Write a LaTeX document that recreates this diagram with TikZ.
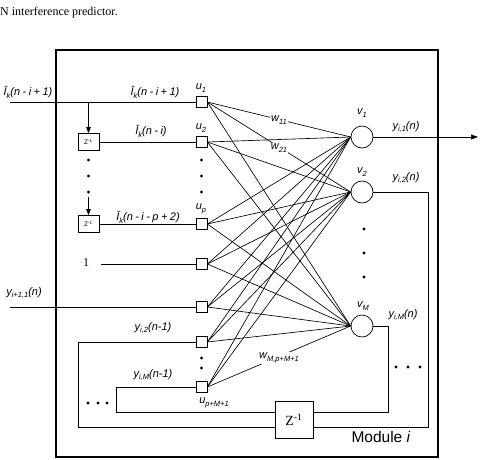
\documentclass[tikz,border=0pt]{standalone}
\usepackage{fontspec}
\setmainfont{Liberation Serif}
\newfontfamily\arl{Liberation Sans}
\usetikzlibrary{arrows.meta}
\newcommand\sbx[1]{\raisebox{-0.5ex}{\fontsize{7.5}{7.5}\selectfont #1}}
\begin{document}
\begin{tikzpicture}[x=1pt,y=-1pt,
  inbox/.style={draw,fill=white,minimum size=11pt,inner sep=0,line width=0.7pt},
  neu/.style={draw,fill=white,circle,minimum size=22pt,inner sep=0,line width=0.7pt},
  zbox/.style={draw,fill=white,minimum width=21pt,minimum height=17pt,inner sep=0,line width=0.7pt,font=\arl\fontsize{6.5}{6.5}\selectfont},
  lab/.style={font=\arl\itshape\fontsize{11}{12}\selectfont,inner sep=0.5pt},
  wlab/.style={lab,fill=white,inner sep=1pt},
  conn/.style={line width=0.65pt},
  dotn/.style={circle,fill,inner sep=0,minimum size=3.2pt},
]
\useasboundingbox (0,0) rectangle (486,459);
\node[anchor=west,font=\fontsize{12}{12}\selectfont,inner sep=0] (cap) at (0,13) {N interference predictor.};
% module box
\node[draw,line width=1.6pt,minimum width=382pt,minimum height=407pt,inner sep=0] (mod) at (247,253.5) {};
% input squares
\node[inbox] (u1) at (201.5,102) {};
\node[inbox] (u2) at (201.5,142) {};
\node[inbox] (up) at (201.5,224) {};
\node[inbox] (ub) at (201.5,264) {};
\node[inbox] (uy) at (201.5,307) {};
\node[inbox] (uf2) at (201.5,342) {};
\node[inbox] (ufM) at (201.5,387) {};
% neurons
\node[neu] (v1) at (362,137) {};
\node[neu] (v2) at (362,192) {};
\node[neu] (vM) at (362,326) {};
% delays
\node[zbox] (z1) at (88.5,142) {Z\textsuperscript{-1}};
\node[zbox] (z2) at (88.5,224) {Z\textsuperscript{-1}};
\node[draw,fill=white,minimum width=38pt,minimum height=37pt,inner sep=0,line width=0.7pt,font=\fontsize{14}{14}\selectfont] (zb) at (294,419.5) {Z\textsuperscript{-1}};
% coordinates
\coordinate (in1) at (10,102);
\coordinate (br) at (88.5,102);
\coordinate (in2) at (10,307);
\coordinate (onestart) at (101,264);
\coordinate (dz) at (88.5,197);
\coordinate (out) at (478,137);
\coordinate (c2a) at (428,192);
\coordinate (c2b) at (428,427);
\coordinate (c2c) at (78,427);
\coordinate (c2d) at (78,342);
\coordinate (cMa) at (388,326);
\coordinate (cMb) at (388,412);
\coordinate (cMc) at (116,412);
\coordinate (cMd) at (116,387);
% full connections
\foreach \a in {u1,u2,up,ub,uy,uf2,ufM}
  \foreach \b in {v1,v2,vM}
    \draw[conn] (\a.east) -- (\b.west);
% inputs
\draw[conn] (in1) -- (u1.west);
\draw[conn,-{Triangle[length=6pt,width=4.5pt]}] (br) -- (z1.north);
\draw[conn,-{Triangle[length=6pt,width=4.5pt]}] (dz) -- (z2.north);
\draw[conn] (z1.east) -- (u2.west);
\draw[conn] (z2.east) -- (up.west);
\draw[conn] (onestart) -- (ub.west);
\draw[conn] (in2) -- (uy.west);
\node[font=\fontsize{12}{12}\selectfont] (one) at (86,263) {1};
% output
\draw[conn,-{Triangle[length=7pt,width=5pt]}] (v1.east) -- (out);
% feedback
\draw[conn] (v2.east) -- (c2a) -- (c2b) -- (zb.east |- c2b);
\draw[conn] (zb.west |- c2c) -- (c2c) -- (c2d) -- (uf2.west);
\draw[conn] (vM.east) -- (cMa) -- (cMb) -- (zb.east |- cMb);
\draw[conn] (zb.west |- cMc) -- (cMc) -- (cMd) -- (ufM.west);
% dots
\foreach \y in {160,176,192} {\node[dotn] at (88.5,\y) {}; \node[dotn] at (201.5,\y) {};}
\foreach \y in {358,368} \node[dotn] at (201.5,\y) {};
\foreach \y in {229,253,277} \node[dotn] at (364,\y) {};
\foreach \x in {88,98,107} \node[dotn] at (\x,403) {};
\foreach \x in {396,408,420} \node[dotn] at (\x,367) {};
% labels
\node[lab,anchor=east] (l1) at (53,92) {Ī\sbx{k}(n\:-\:i\:+\:1)};
\node[lab,anchor=east] (l2) at (180,92) {Ī\sbx{k}(n\:-\:i\:+\:1)};
\node[lab] (l3) at (151,131) {Ī\sbx{k}(n\:-\:i)};
\node[lab] (l4) at (148,217) {Ī\sbx{k}(n\:-\:i\:-\:p\:+\:2)};
\node[lab] (lu1) at (201,88) {u\sbx{1}};
\node[lab] (lu2) at (201,128) {u\sbx{2}};
\node[lab] (lup) at (201,209) {u\sbx{p}};
\node[lab] (ly1) at (24,293) {y\sbx{i+1,1}(n)};
\node[lab] (ly2) at (153,328) {y\sbx{i,2}(n-1)};
\node[lab] (lyM) at (153,375) {y\sbx{i,M}(n-1)};
\node[lab] (lupm) at (214,403) {u\sbx{p+M+1}};
\node[lab] (lv1) at (362,113) {v\sbx{1}};
\node[lab] (lv2) at (362,172) {v\sbx{2}};
\node[lab] (lvM) at (363,306) {v\sbx{M}};
\node[lab] (lo1) at (406,127) {y\sbx{i,1}(n)};
\node[lab] (lo2) at (406,178) {y\sbx{i,2}(n)};
\node[lab] (loM) at (403,315) {y\sbx{i,M}(n)};
\node[wlab] (w11) at (279,120) {w\sbx{11}};
\node[wlab] (w21) at (279,148) {w\sbx{21}};
\node[wlab] (wM) at (279,358) {w\sbx{M,p+M+1}};
\node[font=\arl\fontsize{15.5}{15.5}\selectfont] (modl) at (381,437) {Module \textit{i}};
\end{tikzpicture}
\end{document}
